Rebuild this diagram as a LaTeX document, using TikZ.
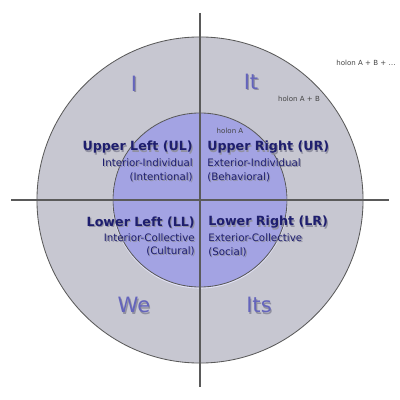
\documentclass[tikz,border=0pt]{standalone}
\usepackage{fontspec}
\setmainfont{DejaVu Sans}
\usetikzlibrary{positioning}

\definecolor{outerfill}{HTML}{C7C7D1}
\definecolor{innerfill}{HTML}{A3A3E3}
\definecolor{navy}{HTML}{1E1E6E}
\definecolor{pronoun}{HTML}{6464BC}
\definecolor{shade}{HTML}{9090A0}
\definecolor{axis}{HTML}{5A5A5A}
\definecolor{holon}{HTML}{444444}

% text with a soft drop shadow
\newcommand{\shadowed}[1]{\makebox[0pt][l]{\textcolor{shade}{\kern0.8pt\raisebox{-0.8pt}{#1}}}#1}

\tikzset{
  title/.style={inner sep=0pt, text=navy, font=\fontsize{9}{10}\selectfont\bfseries},
  sub/.style={inner sep=0pt, text=navy, font=\fontsize{7.3}{9.7}\selectfont},
  pron/.style={inner sep=0pt, text=pronoun, font=\fontsize{15}{15}\selectfont},
  holonlabel/.style={inner sep=0pt, text=holon, font=\fontsize{5}{6}\selectfont},
}

\begin{document}
\begin{tikzpicture}[x=0.025cm, y=-0.025cm]
\useasboundingbox (0,0) rectangle (400,400);
% Circles
\coordinate (c) at (200,200);
\draw[fill=outerfill, draw=axis, line width=0.6pt] (c) circle[radius=4.075cm];
\draw[fill=innerfill, draw=white!70!innerfill, line width=1.2pt] ([yshift=-0.5pt]c) circle[radius=2.175cm];
\draw[fill=innerfill, draw=axis, line width=0.6pt] (c) circle[radius=2.175cm];
% Lines
\coordinate (top) at (200,13);
\coordinate (bottom) at (200,387);
\coordinate (left) at (11,200);
\coordinate (right) at (389,200);
\draw[axis, line width=0.8pt] (top) -- (bottom);
\draw[axis, line width=0.8pt] (left) -- (right);
% Pronouns
\node[pron] (i) at (134,84) {\shadowed{I}};
\node[pron] (it) at (251,82) {\shadowed{It}};
\node[pron] (we) at (134,306) {\shadowed{We}};
\node[pron] (its) at (259,306) {\shadowed{Its}};
% Holons
\node[holonlabel] (ha) at (230,131) {holon A};
\node[holonlabel] (hab) at (299,99) {holon A + B};
\node[holonlabel] (habc) at (366,63) {holon A + B + \dots};
% Quadrants
\node[title, anchor=east] (ul) at (193,148) {\shadowed{Upper Left (UL)}};
\node[sub, anchor=north east, align=right, below left=2.5pt and 0pt of ul.south east] (uls) {\shadowed{Interior-Individual}\\\shadowed{(Intentional)}};
\node[title, anchor=west] (ur) at (207,148) {\shadowed{Upper Right (UR)}};
\node[sub, anchor=north west, align=left, below right=2.5pt and 0pt of ur.south west] (urs) {\shadowed{Exterior-Individual}\\\shadowed{(Behavioral)}};
\node[title, anchor=east] (ll) at (195,223) {\shadowed{Lower Left (LL)}};
\node[sub, anchor=north east, align=right, below left=2.5pt and 0pt of ll.south east] (lls) {\shadowed{Interior-Collective}\\\shadowed{(Cultural)}};
\node[title, anchor=west] (lr) at (208,223) {\shadowed{Lower Right (LR)}};
\node[sub, anchor=north west, align=left, below right=2.5pt and 0pt of lr.south west] (lrs) {\shadowed{Exterior-Collective}\\\shadowed{(Social)}};
\end{tikzpicture}
\end{document}
